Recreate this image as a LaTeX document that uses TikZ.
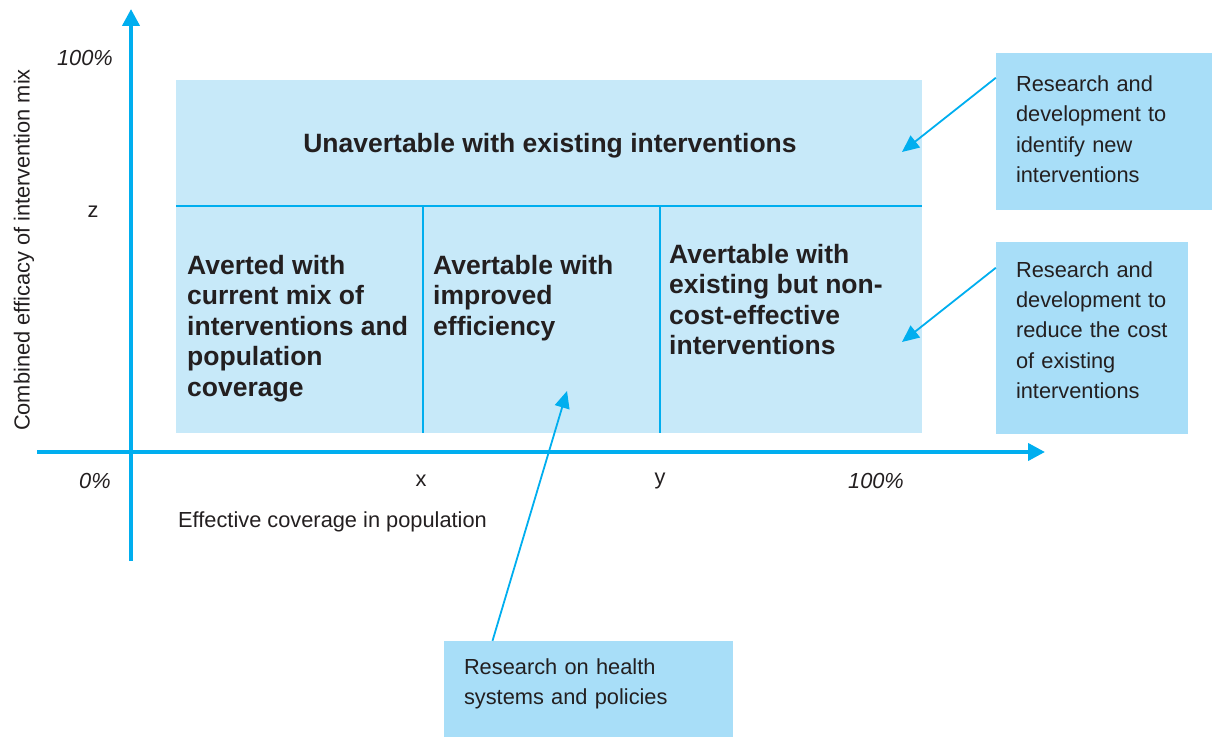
\documentclass[tikz,border=0pt]{standalone}
\usepackage{fontspec}
\setmainfont{Liberation Sans}
\usetikzlibrary{arrows.meta}
\definecolor{cyanline}{HTML}{00AEEF}
\definecolor{cellfill}{HTML}{C7E9F9}
\definecolor{notefill}{HTML}{A8DEF8}
\definecolor{ink}{HTML}{231F20}
\newcommand{\lowdepth}[1]{\rule[-#1]{0pt}{0pt}}
\tikzset{
  cell/.style={fill=cellfill, draw=none, inner sep=0pt, anchor=north west},
  sep/.style={draw=cyanline, line width=1.6pt},
  axis/.style={draw=cyanline, line width=4pt, -{Triangle[length=17pt,width=17pt]}},
  pointer/.style={draw=cyanline, line width=1.8pt, -{Triangle[length=17pt,width=15pt]}},
  celltext/.style={text=ink, font=\fontsize{26.5}{30.5}\selectfont\bfseries, align=left, anchor=north west, inner sep=0pt},
  note/.style={fill=notefill, text=ink, font=\fontsize{21.8}{30.3}\selectfont, align=left, inner xsep=20pt, inner ysep=0pt},
  lbl/.style={text=ink, font=\fontsize{21.8}{26}\selectfont, inner sep=0pt},
  ilbl/.style={lbl, font=\fontsize{21.8}{26}\selectfont\itshape}
}
\begin{document}
\begin{tikzpicture}[x=1pt,y=-1pt]
\useasboundingbox (0,0) rectangle (1217,738);
% cells
\node[cell, minimum width=746pt, minimum height=126pt] (top) at (176,80) {};
\node[cell, minimum width=247pt, minimum height=227pt] (c1) at (176,206) {};
\node[cell, minimum width=237pt, minimum height=227pt] (c2) at (423,206) {};
\node[cell, minimum width=262pt, minimum height=227pt] (c3) at (660,206) {};
\draw[sep] (c1.north west) -- (c3.north east);
\draw[sep] (c2.north west) -- (c2.south west);
\draw[sep] (c3.north west) -- (c3.south west);
% axes
\coordinate (yb) at (131,561);
\coordinate (yt) at (131,9);
\coordinate (xb) at (37,452);
\coordinate (xt) at (1045,452);
\draw[axis] (yb) -- (yt);
\draw[axis] (xb) -- (xt);
% cell texts
\node[text=ink, font=\fontsize{26.5}{30.5}\selectfont\bfseries, inner sep=0pt] (ttop) at (550,146) {Unavertable with existing interventions};
\node[celltext] (t1) at (187,255) {Averted with\\current mix of\\interventions and\\population\\coverage};
\node[celltext] (t2) at (433,255) {Avertable with\\improved\\efficiency};
\node[celltext] (t3) at (669,244) {Avertable with\\existing but non-\\cost-effective\\interventions};
% axis labels
\node[ilbl] (l100y) at (85,58) {100\%};
\node[lbl] (lz) at (93,212) {z};
\node[ilbl] (l0) at (95,481) {0\%};
\node[lbl] (lx) at (421,481) {x};
\node[lbl] (ly) at (660,481) {y};
\node[ilbl] (l100x) at (876,481) {100\%};
\node[lbl, anchor=west] (lxaxis) at (178,522) {Effective coverage in population};
\node[lbl, rotate=90] (lyaxis) at (24,250) {Combined efficacy of intervention mix};
% notes
\node[note, text width=176pt, minimum width=216pt, minimum height=157pt] (n1) at (1104,131.5) {Research and\\development to\\identify new\\interventions\lowdepth{5pt}};
\node[note, text width=152pt, minimum width=192pt, minimum height=192pt] (n2) at (1092,338) {Research and\\development to\\reduce the cost\\of existing\\interventions\lowdepth{16pt}};
\node[note, text width=249pt, minimum width=289pt, minimum height=96pt] (n3) at (588.5,689) {Research on health\\systems and policies\lowdepth{14.6pt}};
% pointers
\coordinate (p1) at (902,152);
\coordinate (p2) at (902,342);
\coordinate (p3) at (567,391);
\draw[pointer] ([yshift=-25pt]n1.north west) -- (p1);
\draw[pointer] ([yshift=-26pt]n2.north west) -- (p2);
\draw[pointer] ([xshift=-96pt]n3.north) -- (p3);
\end{tikzpicture}
\end{document}
